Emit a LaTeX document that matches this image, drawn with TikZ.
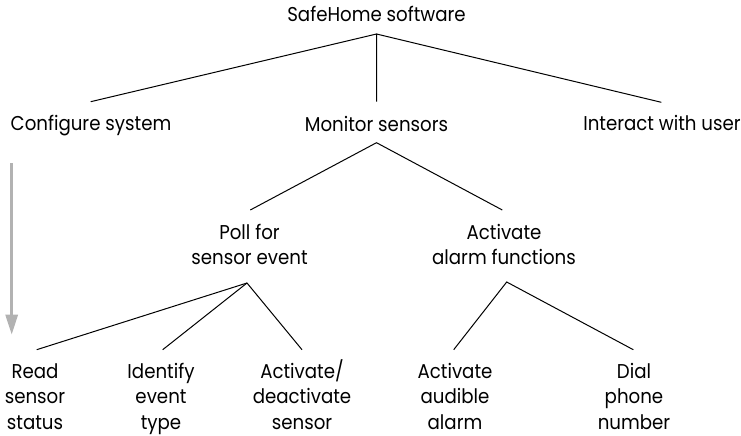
\documentclass[tikz,border=0pt]{standalone}
\usepackage{fontspec}
\setmainfont{Poppins}[FakeStretch=0.91]
\usetikzlibrary{arrows.meta}
\begin{document}
\begin{tikzpicture}[x=1pt,y=-1pt,
  lbl/.style={font=\fontsize{20}{25.5}\selectfont, align=center, anchor=base, inner sep=0pt},
  edge/.style={line width=1pt, black},
  grayarrow/.style={line width=3pt, black!30, -{Triangle[length=20pt,width=12pt]}}]
\useasboundingbox (0,0) rectangle (741,436);
\node[lbl] (safe) at (376.5,22) {SafeHome software};
\node[lbl] (config) at (91,130) {Configure system};
\node[lbl] (monitor) at (376.5,131) {Monitor sensors};
\node[lbl] (interact) at (662,130) {Interact with user};
\node[lbl] (poll) at (249.5,264.5) {Poll for\\sensor event};
\node[lbl] (alarm) at (504,264.5) {Activate\\alarm functions};
\node[lbl] (read) at (35,429) {Read\\sensor\\status};
\node[lbl] (ident) at (161,429) {Identify\\event\\type};
\node[lbl] (actd) at (302,429) {Activate/\\deactivate\\sensor};
\node[lbl] (aud) at (455,429) {Activate\\audible\\alarm};
\node[lbl] (dial) at (634,429) {Dial\\phone\\number};
\draw[edge] ([xshift=-0.3pt,yshift=28.3pt]config.base) -- ([yshift=-12pt]safe.base) -- ([yshift=29.3pt]monitor.base);
\draw[edge] ([yshift=-12pt]safe.base) -- ([xshift=-0.7pt,yshift=27.7pt]interact.base);
\draw[edge] ([xshift=0.8pt,yshift=54.5pt]poll.base) -- ([yshift=-11.7pt]monitor.base) -- ([xshift=-1.7pt,yshift=54.5pt]alarm.base);
\draw[edge] ([xshift=1.7pt,yshift=79.3pt]read.base) -- ([xshift=-2.5pt,yshift=-18.5pt]poll.base);
\draw[edge] ([xshift=1.7pt,yshift=79.3pt]ident.base) -- ([xshift=-2.5pt,yshift=-18.5pt]poll.base) -- ([yshift=79.3pt]actd.base);
\draw[edge] ([xshift=-1.3pt,yshift=79.3pt]aud.base) -- ([xshift=2.7pt,yshift=-17.5pt]alarm.base) -- ([xshift=-0.7pt,yshift=79.3pt]dial.base);
\coordinate (gtop) at (11.7,163);
\coordinate (gbot) at (11.7,334.7);
\draw[grayarrow] (gtop) -- (gbot);
\end{tikzpicture}
\end{document}
